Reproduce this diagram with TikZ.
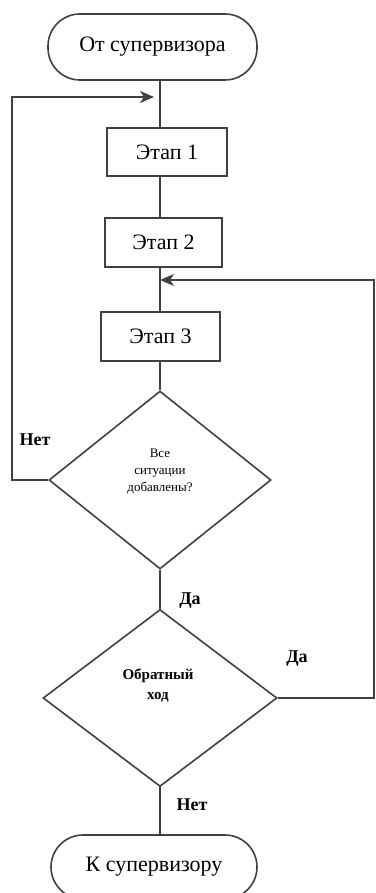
\documentclass[tikz,border=0pt]{standalone}
\usepackage{fontspec}
\setmainfont{Liberation Serif}
\usetikzlibrary{shapes.geometric,arrows.meta}
\begin{document}
\begin{tikzpicture}[x=1pt,y=-1pt,
  line/.style={draw=black!75,line width=1.6pt},
  arr/.style={line,-{Stealth[length=14pt,width=12pt,inset=4pt]}},
  term/.style={line,rectangle,rounded corners=32pt,inner sep=0pt,
    font=\fontsize{22}{26}\selectfont},
  stage/.style={line,rectangle,inner sep=0pt,font=\fontsize{22}{26}\selectfont},
  decision/.style={line,diamond,inner sep=0pt},
  dtext/.style={align=center,inner sep=0pt},
  lbl/.style={font=\bfseries\fontsize{18}{21}\selectfont,inner sep=0pt}]
\useasboundingbox (0,0) rectangle (375,893);

% flow nodes
\node[term,minimum width=209pt,minimum height=66pt] (start) at (152.5,47) {От супервизора};
\node[stage,minimum width=120pt,minimum height=48pt] (s1) at (167,152) {Этап 1};
\node[stage,minimum width=117pt,minimum height=49pt] (s2) at (163.5,242.5) {Этап 2};
\node[stage,minimum width=119pt,minimum height=49pt] (s3) at (160.5,336.5) {Этап 3};
\node[decision,minimum width=222pt,minimum height=178pt] (d1) at (160,480) {};
\node[decision,minimum width=234pt,minimum height=177pt] (d2) at (160,698) {};
\node[term,minimum width=206pt,minimum height=64pt] (finish) at (154,867) {К супервизору};

% decision texts
\node[dtext,font=\fontsize{13}{17}\selectfont] (q1) at (160,471) {Все\\ситуации\\добавлены?};
\node[dtext,font=\bfseries\fontsize{15}{20}\selectfont] (q2) at (158,685) {Обратный\\ход};

% spine and loop corners
\coordinate (sp) at (160,0);
\coordinate (j1) at (160,97);
\coordinate (j2) at (160,280);
\coordinate (ll) at (12,0);
\coordinate (rr) at (374,0);

% main line
\draw[line] (start.south -| sp) -- (s1.north -| sp);
\draw[line] (s1.south -| sp) -- (s2.north -| sp);
\draw[line] (s2.south -| sp) -- (s3.north -| sp);
\draw[line] (s3.south -| d1.north) -- (d1.north);
\draw[line] (d1.south) -- (d2.north);
\draw[line] (d2.south) -- (finish.north -| d2.south);

% loop back from the first decision
\draw[arr,shorten >=6pt] (d1.west) -- (d1.west -| ll) -- (j1 -| ll) -- (j1);
% loop back from the second decision
\draw[arr] (d2.east) -- (d2.east -| rr) -- (j2 -| rr) -- (j2);

% branch labels
\node[lbl] (no1) at (35,440) {Нет};
\node[lbl] (yes1) at (190,601) {Да};
\node[lbl] (yes2) at (297,659) {Да};
\node[lbl] (no2) at (192,805) {Нет};
\end{tikzpicture}
\end{document}
